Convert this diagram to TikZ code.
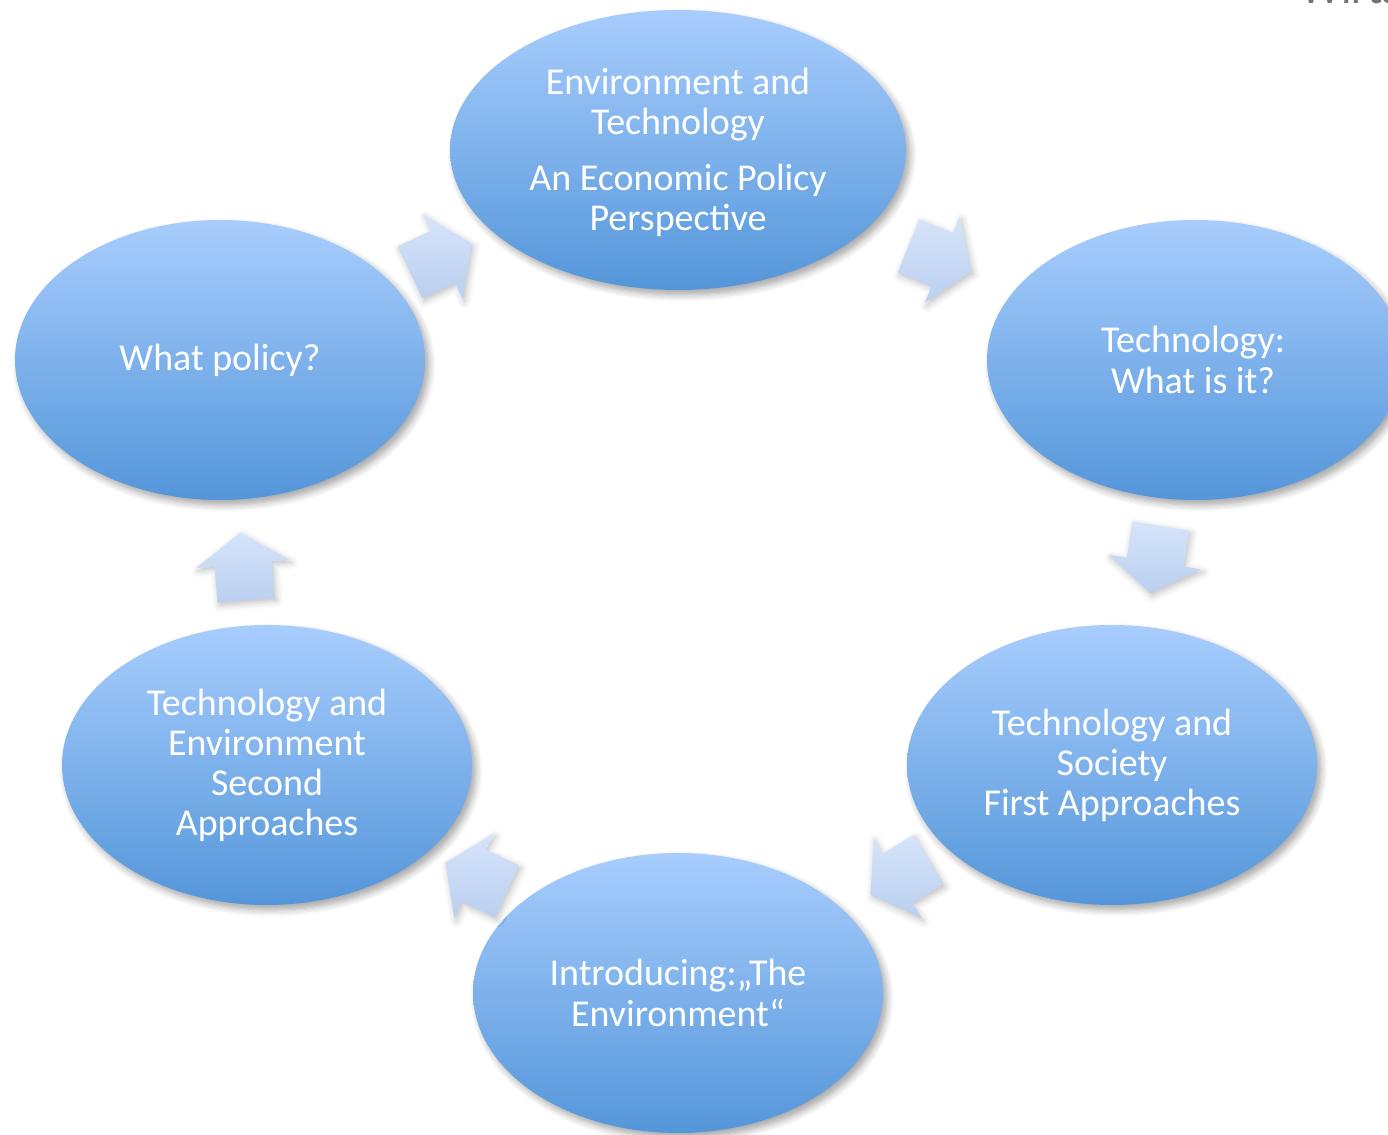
\documentclass[tikz,border=0pt]{standalone}
\usepackage{fontspec}
\setmainfont{Carlito}
\usepackage{tikz}
\usetikzlibrary{shapes.geometric, shapes.arrows}
\usetikzlibrary{shadows.blur}

\definecolor{ovaltop}{RGB}{168,205,253}
\definecolor{ovalbot}{RGB}{84,150,218}
\definecolor{arrtop}{RGB}{214,228,250}
\definecolor{arrbot}{RGB}{186,207,240}

\begin{document}
\begin{tikzpicture}[
    oval/.style = {ellipse, top color=ovaltop, bottom color=ovalbot,
      inner sep=0pt, minimum width=4.1cm, minimum height=2.8cm,
      blur shadow={shadow xshift=0.04cm, shadow yshift=-0.05cm,
        shadow blur steps=6, shadow opacity=35}},
    txt/.style = {text=white, align=center,
      font=\fontsize{10.8}{11.4}\selectfont},
    turn/.style = {single arrow, top color=arrtop, bottom color=arrbot,
      minimum height=0.68cm, inner xsep=0pt, inner ysep=0.28cm,
      single arrow head extend=0.18cm, single arrow tip angle=112,
      blur shadow={shadow xshift=0.02cm, shadow yshift=-0.03cm,
        shadow blur steps=4, shadow opacity=25}}
  ]
  \useasboundingbox (0,0) rectangle (13.88,11.35);

  % header text running off the page
  \node[anchor=base west, text=black!55, font=\fontsize{13}{13}\selectfont]
    (head) at (12.88,11.31) {Wirtschaftspolitik};

  % the six topics
  \node[oval, minimum width=4.56cm] (env) at (6.78,9.85) {};
  \node[oval, minimum width=4.16cm] (what) at (11.95,7.75) {};
  \node[oval] (soc) at (11.12,3.70) {};
  \node[oval] (intro) at (6.78,1.42) {};
  \node[oval] (second) at (2.67,3.70) {};
  \node[oval] (policy) at (2.20,7.75) {};

  \node[txt] (envtxt) at ([yshift=-0.02cm]env)
    {Environment and\\Technology\\[0.16cm]An Economic Policy\\Perspective};
  \node[txt] (whattxt) at ([xshift=-0.02cm]what) {Technology:\\What is it?};
  \node[txt] (soctxt) at (soc) {Technology and\\Society\\First Approaches};
  \node[txt] (introtxt) at (intro) {Introducing:„The\\Environment“};
  \node[txt] (secondtxt) at (second) {Technology and\\Environment\\Second\\Approaches};
  \node[txt] (policytxt) at (policy) {What policy?};

  % arrows between them
  \node[turn, rotate=25] (a1) at (4.32,8.73) {};
  \node[turn, rotate=-22] (a2) at (9.31,8.80) {};
  \node[turn, rotate=-99] (a3) at (11.57,5.85) {};
  \node[turn, rotate=211] (a4) at (9.08,2.63) {};
  \node[turn, rotate=155] (a5) at (4.85,2.54) {};
  \node[turn, rotate=95] (a6) at (2.44,5.59) {};
\end{tikzpicture}
\end{document}
